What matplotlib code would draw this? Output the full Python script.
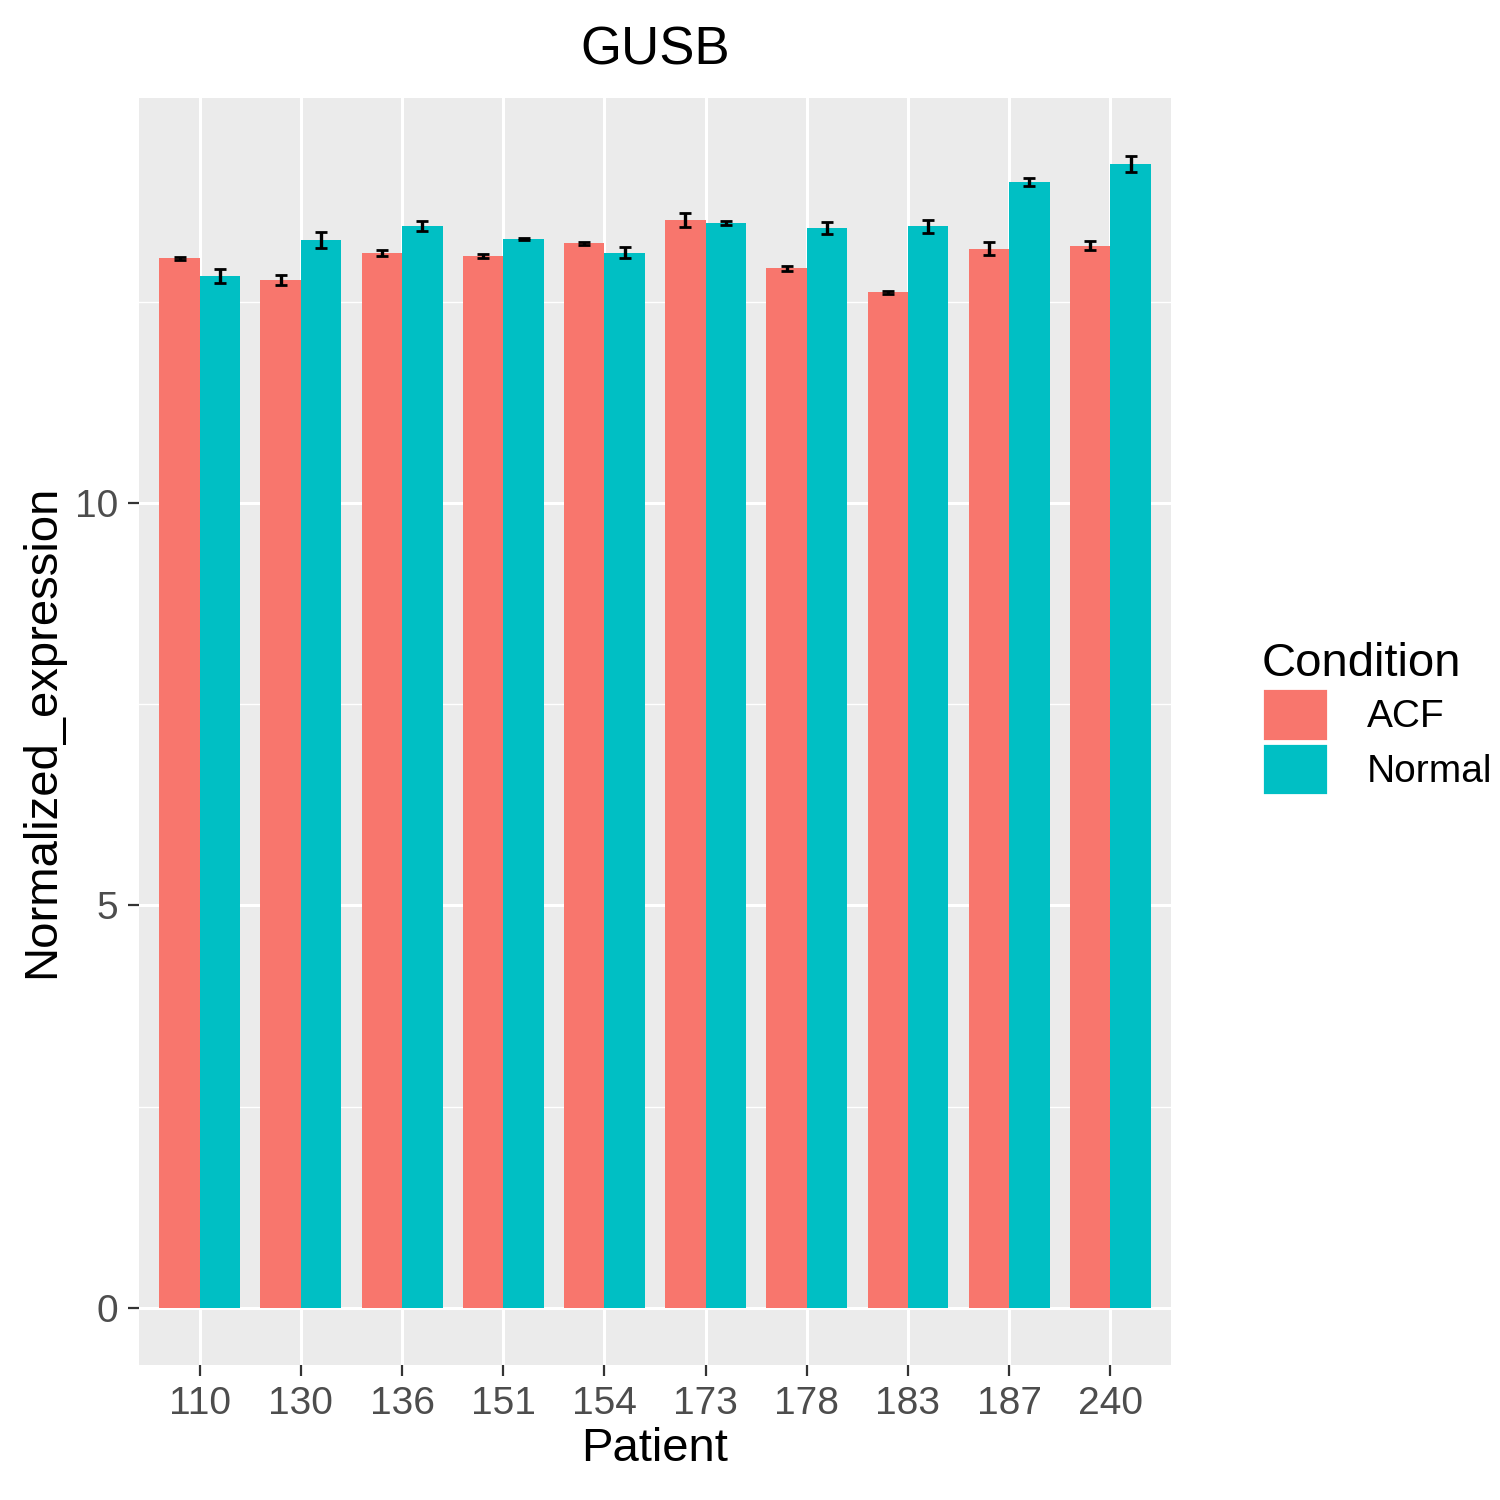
import numpy as np
import matplotlib.pyplot as plt
from matplotlib.patches import Patch

plt.rcParams['font.family'] = ['Liberation Sans', 'DejaVu Sans']

patients = ['110', '130', '136', '151', '154', '173', '178', '183', '187', '240']
acf = [13.04, 12.77, 13.11, 13.07, 13.23, 13.52, 12.92, 12.62, 13.16, 13.20]
normal = [12.82, 13.27, 13.44, 13.28, 13.11, 13.48, 13.42, 13.44, 13.99, 14.21]
acf_err = [0.02, 0.06, 0.04, 0.03, 0.02, 0.09, 0.03, 0.02, 0.08, 0.06]
normal_err = [0.09, 0.10, 0.06, 0.01, 0.07, 0.02, 0.07, 0.08, 0.05, 0.10]

c_acf = '#F8766D'
c_norm = '#00BFC4'

fig = plt.figure(figsize=(7.5, 7.5), dpi=200)
ax = fig.add_axes([0.0927, 0.09, 0.688, 0.845])
ax.set_facecolor('#EBEBEB')

x = np.arange(len(patients))
w = 0.4
ax.bar(x - w / 2, acf, w, color=c_acf, zorder=2)
ax.bar(x + w / 2, normal, w, color=c_norm, zorder=2)
ax.errorbar(x - w / 2, acf, yerr=acf_err, fmt='none', ecolor='black', elinewidth=1.2, capsize=2, zorder=3)
ax.errorbar(x + w / 2, normal, yerr=normal_err, fmt='none', ecolor='black', elinewidth=1.2, capsize=2, zorder=3)

ax.set_xlim(-0.6, 9.6)
ax.set_ylim(-0.71, 15.04)
ax.set_yticks([0, 5, 10])
ax.set_yticks([2.5, 7.5, 12.5], minor=True)
ax.set_xticks(x)
ax.set_xticklabels(patients)
ax.grid(True, which='major', color='white', linewidth=1.1, zorder=0)
ax.grid(True, which='minor', axis='y', color='white', linewidth=0.5, zorder=0)
ax.set_axisbelow(True)
for s in ax.spines.values():
    s.set_visible(False)
ax.tick_params(which='major', length=4, color='#333333', labelsize=14, labelcolor='#4D4D4D')
ax.tick_params(which='minor', length=0)
ax.set_xlabel('Patient', fontsize=17, labelpad=2)
ax.set_ylabel('Normalized_expression', fontsize=17, labelpad=4)
ax.set_title('GUSB', fontsize=19, pad=12)

handles = [Patch(facecolor=c_acf, edgecolor='white', label='ACF'),
           Patch(facecolor=c_norm, edgecolor='white', label='Normal')]
fig.legend(handles=handles, title='Condition', loc='upper left', bbox_to_anchor=(0.818, 0.595),
           frameon=False, fontsize=14, title_fontsize=17, handlelength=1.7, handleheight=1.7,
           labelspacing=0.05, handletextpad=1.0, alignment='left')

fig.savefig('out.png')
